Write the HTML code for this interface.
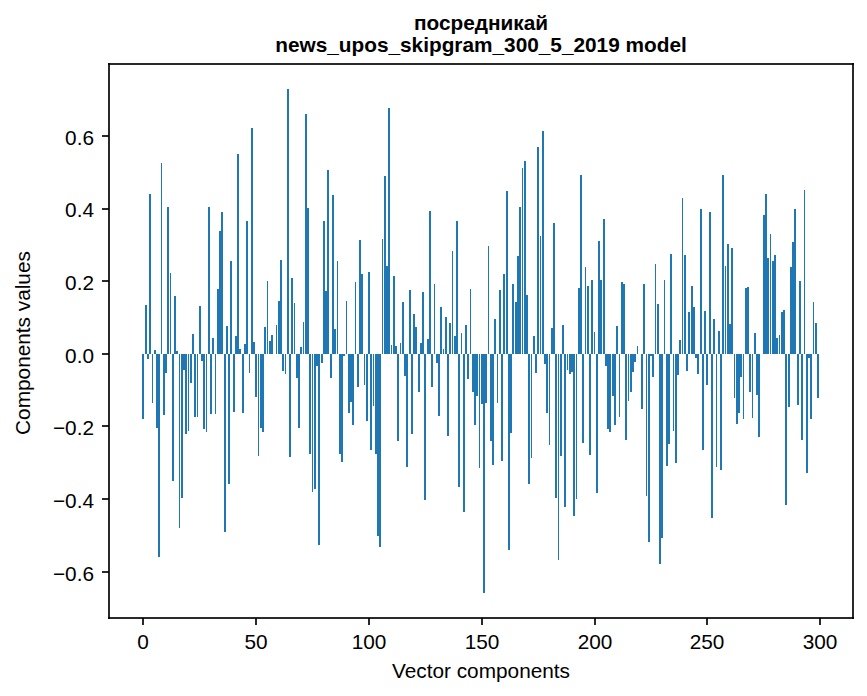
<!DOCTYPE html>
<html><head><meta charset="utf-8"><title>bar chart</title>
<style>html,body{margin:0;padding:0;background:#fff}svg{display:block}</style></head>
<body>
<svg width="867" height="696" viewBox="0 0 867 696" role="img" aria-label="Bar chart: посредникай, news_upos_skipgram_300_5_2019 model">
<title>посредникай — news_upos_skipgram_300_5_2019 model</title>
<desc>Bar chart of 300 vector components. X axis: Vector components (0 to 300). Y axis: Components values (-0.6 to 0.6).</desc>
<rect x="0" y="0" width="867" height="696" fill="#ffffff"/>
<path fill="#1f77b4" d="M142 354h2v65h-2zM145 305h2v49h-2zM147 354h2v5h-2zM149 194h2v160h-2zM152 354h1v49h-1zM154 350h2v4h-2zM156 354h2v74h-2zM158 354h2v203h-2zM161 163h1v191h-1zM163 354h2v61h-2zM165 354h2v19h-2zM167 207h2v147h-2zM170 273h1v81h-1zM172 354h2v127h-2zM174 296h2v58h-2zM176 351h2v3h-2zM179 354h1v174h-1zM181 354h2v144h-2zM183 354h2v16h-2zM185 354h2v80h-2zM188 354h1v77h-1zM190 354h2v29h-2zM192 334h2v20h-2zM194 354h2v63h-2zM197 354h1v63h-1zM199 306h2v48h-2zM201 354h2v7h-2zM203 354h2v75h-2zM206 354h1v78h-1zM208 207h2v147h-2zM210 354h2v60h-2zM212 338h2v16h-2zM215 354h1v60h-1zM217 289h2v65h-2zM219 231h2v123h-2zM221 212h2v142h-2zM224 354h2v178h-2zM226 326h2v28h-2zM228 354h2v130h-2zM230 261h2v93h-2zM233 354h2v58h-2zM235 336h2v18h-2zM237 154h2v200h-2zM239 349h2v5h-2zM242 354h2v59h-2zM244 344h2v10h-2zM246 221h2v133h-2zM249 354h1v19h-1zM251 128h2v226h-2zM253 342h2v12h-2zM255 354h2v43h-2zM258 354h1v102h-1zM260 354h2v74h-2zM262 354h2v78h-2zM264 327h2v27h-2zM267 281h1v73h-1zM269 341h2v13h-2zM271 335h2v19h-2zM276 325h1v29h-1zM278 301h2v53h-2zM280 260h2v94h-2zM282 354h2v17h-2zM285 354h1v20h-1zM287 89h2v265h-2zM289 354h2v103h-2zM291 278h2v76h-2zM294 303h1v51h-1zM296 354h2v24h-2zM298 354h2v74h-2zM300 347h2v7h-2zM303 322h1v32h-1zM305 114h2v240h-2zM307 208h2v146h-2zM309 354h2v100h-2zM312 354h1v138h-1zM314 354h2v135h-2zM316 354h2v12h-2zM318 354h2v191h-2zM321 354h2v9h-2zM323 221h2v133h-2zM325 291h2v63h-2zM327 170h2v184h-2zM330 354h2v24h-2zM332 195h2v159h-2zM334 329h2v25h-2zM337 261h1v93h-1zM339 354h2v100h-2zM341 354h2v108h-2zM343 354h2v2h-2zM346 301h1v53h-1zM348 354h2v59h-2zM350 354h2v48h-2zM352 354h2v71h-2zM355 282h1v72h-1zM357 354h2v33h-2zM359 240h2v114h-2zM361 274h2v80h-2zM364 354h1v31h-1zM366 354h2v67h-2zM368 272h2v82h-2zM370 354h2v96h-2zM373 354h1v52h-1zM375 354h2v100h-2zM377 354h2v182h-2zM379 354h2v193h-2zM382 239h1v115h-1zM384 176h2v178h-2zM386 266h2v88h-2zM388 108h2v246h-2zM391 345h1v9h-1zM393 276h2v78h-2zM395 346h2v8h-2zM397 354h2v87h-2zM400 343h1v11h-1zM402 302h2v52h-2zM404 354h2v22h-2zM406 354h2v113h-2zM409 290h2v64h-2zM411 354h2v80h-2zM413 314h2v40h-2zM415 327h2v27h-2zM418 354h2v38h-2zM420 343h2v11h-2zM422 292h2v62h-2zM424 354h2v146h-2zM427 339h2v15h-2zM429 211h2v143h-2zM431 354h2v33h-2zM434 284h1v70h-1zM436 354h2v9h-2zM438 354h2v62h-2zM440 307h2v47h-2zM443 349h1v5h-1zM445 317h2v37h-2zM447 354h2v82h-2zM449 323h2v31h-2zM452 251h1v103h-1zM454 336h2v18h-2zM456 221h2v133h-2zM458 354h2v133h-2zM461 333h1v21h-1zM463 354h2v158h-2zM465 325h2v29h-2zM467 354h2v25h-2zM470 289h1v65h-1zM472 354h2v38h-2zM474 354h2v71h-2zM476 354h2v42h-2zM479 354h1v114h-1zM481 354h2v50h-2zM483 354h2v239h-2zM485 354h2v49h-2zM488 246h1v108h-1zM490 354h2v87h-2zM492 354h2v111h-2zM494 319h2v35h-2zM497 354h1v49h-1zM499 290h2v64h-2zM501 354h2v107h-2zM503 274h2v80h-2zM506 191h2v163h-2zM508 354h2v196h-2zM510 354h2v79h-2zM512 284h2v70h-2zM515 302h2v52h-2zM517 256h2v98h-2zM519 207h2v147h-2zM522 168h1v186h-1zM524 161h2v193h-2zM526 295h2v59h-2zM528 354h2v130h-2zM531 354h1v104h-1zM533 336h2v18h-2zM535 354h2v19h-2zM537 147h2v207h-2zM540 236h1v118h-1zM542 131h2v223h-2zM544 354h2v10h-2zM546 354h2v59h-2zM549 354h1v91h-1zM551 328h2v26h-2zM553 223h2v131h-2zM555 354h2v144h-2zM558 354h1v206h-1zM560 354h2v102h-2zM562 325h2v29h-2zM564 354h2v153h-2zM567 354h1v16h-1zM569 354h2v20h-2zM571 354h2v18h-2zM573 354h2v162h-2zM576 354h1v145h-1zM578 288h2v66h-2zM580 175h2v179h-2zM582 354h2v89h-2zM585 267h1v87h-1zM587 286h2v68h-2zM589 354h2v101h-2zM591 280h2v74h-2zM594 332h1v22h-1zM596 354h2v139h-2zM598 241h2v113h-2zM600 280h2v74h-2zM603 219h2v135h-2zM605 354h2v12h-2zM607 354h2v75h-2zM609 354h2v78h-2zM612 354h2v42h-2zM614 354h2v71h-2zM616 326h2v28h-2zM619 354h1v63h-1zM621 282h2v72h-2zM623 284h2v70h-2zM625 354h2v86h-2zM628 354h1v47h-1zM630 354h2v38h-2zM632 354h2v18h-2zM634 354h2v8h-2zM637 346h1v8h-1zM641 354h2v55h-2zM643 284h2v70h-2zM646 354h1v142h-1zM648 354h2v188h-2zM650 354h2v2h-2zM652 354h2v23h-2zM655 264h1v90h-1zM657 304h2v50h-2zM659 354h2v210h-2zM661 354h2v184h-2zM664 280h1v74h-1zM666 354h2v112h-2zM668 354h2v90h-2zM670 254h2v100h-2zM673 354h1v77h-1zM675 354h2v109h-2zM677 354h2v21h-2zM679 340h2v14h-2zM682 198h1v156h-1zM684 255h2v99h-2zM686 354h2v17h-2zM688 312h2v42h-2zM691 286h2v68h-2zM693 307h2v47h-2zM695 354h2v4h-2zM697 354h2v20h-2zM700 209h2v145h-2zM702 354h2v96h-2zM704 311h2v43h-2zM706 354h2v31h-2zM709 212h2v142h-2zM711 354h2v164h-2zM713 319h2v35h-2zM716 354h1v113h-1zM718 331h2v23h-2zM720 354h2v116h-2zM722 175h2v179h-2zM725 266h1v88h-1zM727 244h2v110h-2zM729 324h2v30h-2zM731 248h2v106h-2zM734 354h1v44h-1zM736 354h2v70h-2zM738 354h2v59h-2zM740 354h2v23h-2zM743 354h1v65h-1zM745 288h2v66h-2zM747 287h2v67h-2zM749 354h2v38h-2zM752 354h1v64h-1zM754 333h2v21h-2zM756 354h2v41h-2zM758 354h2v83h-2zM763 215h2v139h-2zM765 194h2v160h-2zM767 258h2v96h-2zM770 234h1v120h-1zM772 261h2v93h-2zM774 255h2v99h-2zM776 338h2v16h-2zM779 335h1v19h-1zM781 312h2v42h-2zM783 310h2v44h-2zM785 354h2v151h-2zM788 354h2v53h-2zM790 267h2v87h-2zM792 242h2v112h-2zM794 209h2v145h-2zM797 354h2v51h-2zM799 281h2v73h-2zM801 354h2v86h-2zM804 190h1v164h-1zM806 354h2v119h-2zM808 354h2v4h-2zM810 354h2v65h-2zM813 302h1v52h-1zM815 323h2v31h-2zM817 354h2v44h-2z"/>
<g fill="#000000" fill-opacity="0.8353">
<rect x="142" y="618" width="2" height="7"/>
<rect x="255" y="618" width="2" height="7"/>
<rect x="368" y="618" width="2" height="7"/>
<rect x="481" y="618" width="2" height="7"/>
<rect x="594" y="618" width="2" height="7"/>
<rect x="706" y="618" width="2" height="7"/>
<rect x="819" y="618" width="2" height="7"/>
<rect x="102" y="571" width="7" height="2"/>
<rect x="102" y="498" width="7" height="2"/>
<rect x="102" y="425" width="7" height="2"/>
<rect x="102" y="353" width="7" height="2"/>
<rect x="102" y="280" width="7" height="2"/>
<rect x="102" y="208" width="7" height="2"/>
<rect x="102" y="135" width="7" height="2"/>
<rect x="108" y="63" width="2" height="556"/>
<rect x="852" y="63" width="2" height="556"/>
<rect x="108" y="617" width="746" height="2"/>
<rect x="108" y="63" width="746" height="2"/>
</g>
<g fill="#000000" font-family="&quot;Liberation Sans&quot;, &quot;DejaVu Sans&quot;, sans-serif" font-size="20.8px">
<text id="xt0" x="143" y="649" text-anchor="middle">0</text>
<text id="xt50" x="256" y="649" text-anchor="middle">50</text>
<text id="xt100" x="369" y="649" text-anchor="middle">100</text>
<text id="xt150" x="482" y="649" text-anchor="middle">150</text>
<text id="xt200" x="595" y="649" text-anchor="middle">200</text>
<text id="xt250" x="707" y="649" text-anchor="middle">250</text>
<text id="xt300" x="820" y="649" text-anchor="middle">300</text>
<text id="yt-0.6" x="94" y="581" text-anchor="end">−0.6</text>
<text id="yt-0.4" x="94" y="508" text-anchor="end">−0.4</text>
<text id="yt-0.2" x="94" y="435" text-anchor="end">−0.2</text>
<text id="yt0.0" x="94" y="363" text-anchor="end">0.0</text>
<text id="yt0.2" x="94" y="290" text-anchor="end">0.2</text>
<text id="yt0.4" x="94" y="217" text-anchor="end">0.4</text>
<text id="yt0.6" x="94" y="145" text-anchor="end">0.6</text>
<text id="xlabel" x="481" y="678" text-anchor="middle">Vector components</text>
<text id="ylabel" x="30" y="343" text-anchor="middle" transform="rotate(-90 30 343)">Components values</text>
<text id="title1" x="481" y="30" text-anchor="middle" font-weight="bold">посредникай</text>
<text id="title2" x="481" y="52" text-anchor="middle" font-weight="bold">news_upos_skipgram_300_5_2019 model</text>
</g>
</svg>
</body></html>
